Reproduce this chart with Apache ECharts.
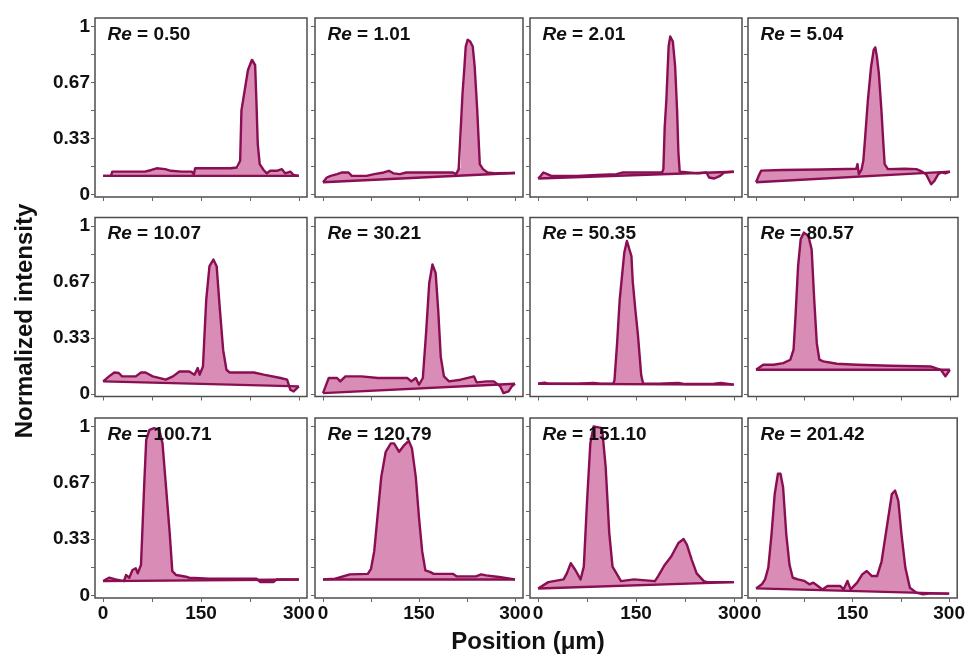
<!DOCTYPE html>
<html>
<head>
<meta charset="utf-8">
<script src="https://cdn.jsdelivr.net/npm/echarts@6/dist/echarts.min.js"></script>
<style>
  html, body { margin: 0; padding: 0; background: #ffffff; }
  #chart { width: 968px; height: 660px; }
</style>
</head>
<body>
<div id="chart"></div>
<script>
// Reynolds numbers shown in each panel (row by row)
const reValues = ['0.50', '1.01', '2.01', '5.04', '10.07', '30.21', '50.35', '80.57', '100.71', '120.79', '151.10', '201.42'];

// Intensity profiles: [position (µm), normalized intensity]
const profileRe050 = [[0,0.11],[12,0.11],[14,0.135],[40,0.135],[64,0.135],[74,0.145],[82,0.155],[95,0.15],[104,0.14],[120,0.135],[136,0.135],[139,0.12],[141,0.155],[170,0.155],[195,0.155],[205,0.16],[208,0.155],[210,0.2],[212,0.5],[217,0.62],[222,0.74],[228,0.80],[231,0.805],[233,0.77],[235,0.55],[237,0.3],[240,0.18],[246,0.145],[251,0.125],[256,0.14],[266,0.14],[274,0.15],[279,0.125],[287,0.135],[292,0.115],[300,0.11]];
const profileRe101 = [[0,0.072],[3,0.075],[6,0.10],[12,0.11],[22,0.12],[30,0.13],[40,0.13],[45,0.11],[68,0.11],[80,0.12],[95,0.13],[103,0.14],[110,0.125],[120,0.12],[130,0.13],[160,0.13],[185,0.13],[203,0.13],[208,0.12],[212,0.15],[215,0.16],[218,0.60],[221,0.76],[223,0.88],[226,0.92],[230,0.91],[234,0.88],[237,0.76],[241,0.50],[245,0.18],[250,0.15],[257,0.13],[270,0.125],[300,0.127]];
const profileRe201 = [[0,0.094],[4,0.11],[8,0.13],[14,0.12],[20,0.11],[60,0.11],[90,0.115],[120,0.12],[130,0.13],[160,0.13],[190,0.13],[192,0.15],[194,0.4],[196.5,0.56],[200,0.88],[202.5,0.94],[206.5,0.91],[210,0.76],[213,0.50],[215,0.25],[217,0.135],[230,0.13],[245,0.125],[258,0.13],[262,0.10],[270,0.094],[279,0.11],[285,0.13],[300,0.134]];
const profileRe504 = [[0,0.072],[4,0.11],[8,0.141],[40,0.145],[100,0.148],[140,0.151],[155,0.152],[157,0.18],[159,0.12],[163,0.145],[166,0.20],[169,0.35],[173,0.56],[178,0.76],[182,0.86],[184.5,0.875],[187,0.82],[190,0.72],[194,0.50],[197,0.30],[199,0.18],[204,0.15],[230,0.152],[248,0.15],[257,0.135],[263,0.12],[267,0.09],[271,0.06],[276,0.08],[282,0.12],[287,0.131],[293,0.125],[300,0.135]];
const profileRe1007 = [[0,0.074],[9,0.104],[17,0.127],[24,0.124],[29,0.104],[50,0.104],[58,0.127],[65,0.127],[76,0.104],[96,0.084],[107,0.104],[117,0.133],[132,0.133],[140,0.114],[145,0.153],[148,0.114],[153,0.163],[158,0.56],[163,0.76],[169,0.80],[174,0.76],[179,0.50],[184,0.26],[189,0.143],[194,0.127],[231,0.127],[246,0.114],[272,0.094],[282,0.084],[287,0.024],[292,0.014],[300,0.044]];
const profileRe3021 = [[0,0.004],[4,0.044],[9,0.094],[22,0.094],[27,0.074],[35,0.104],[60,0.104],[86,0.094],[132,0.094],[138,0.074],[145,0.094],[150,0.054],[156,0.094],[161,0.36],[166,0.66],[171,0.77],[176,0.72],[180,0.50],[184,0.22],[189,0.104],[197,0.074],[215,0.084],[236,0.104],[240,0.068],[256,0.074],[267,0.074],[277,0.044],[282,0.004],[290,0.014],[295,0.044],[300,0.06]];
const profileRe5035 = [[0,0.06],[3,0.066],[10,0.066],[15,0.06],[60,0.06],[85,0.065],[95,0.06],[115,0.06],[117,0.08],[121,0.30],[125,0.56],[132,0.84],[136,0.91],[139,0.90],[143,0.82],[145,0.67],[149,0.50],[153,0.35],[158,0.11],[161,0.06],[185,0.06],[215,0.065],[225,0.058],[270,0.06],[280,0.065],[300,0.055]];
const profileRe8057 = [[0,0.143],[11,0.173],[27,0.173],[42,0.183],[53,0.203],[58,0.263],[61,0.46],[65,0.76],[69,0.92],[74,0.96],[81,0.94],[86,0.86],[90,0.56],[94,0.30],[98,0.203],[104,0.193],[125,0.179],[156,0.173],[208,0.167],[270,0.163],[286,0.143],[293,0.104],[300,0.143]];
const profileRe10071 = [[0,0.084],[9,0.104],[19,0.094],[32,0.084],[35,0.12],[40,0.104],[45,0.15],[50,0.16],[53,0.13],[58,0.18],[60,0.37],[63,0.66],[66,0.92],[71,0.98],[78,0.99],[86,0.98],[91,0.90],[96,0.66],[102,0.37],[106,0.143],[112,0.12],[127,0.11],[132,0.104],[163,0.098],[235,0.098],[241,0.078],[261,0.078],[266,0.094],[300,0.094]];
const profileRe12079 = [[0,0.094],[19,0.098],[42,0.124],[70,0.127],[75,0.157],[80,0.26],[85,0.46],[91,0.70],[98,0.85],[106,0.90],[111,0.90],[119,0.85],[127,0.89],[134,0.915],[139,0.87],[145,0.70],[150,0.46],[155,0.26],[160,0.147],[168,0.137],[173,0.127],[203,0.127],[209,0.112],[239,0.112],[247,0.124],[255,0.118],[275,0.108],[300,0.094]];
const profileRe15110 = [[0,0.04],[15.5,0.078],[39,0.094],[44,0.13],[50,0.19],[57,0.15],[65,0.094],[70,0.17],[75,0.56],[80,0.90],[85,1.0],[98,0.99],[103.5,0.76],[109,0.37],[114,0.17],[127,0.084],[147,0.094],[179,0.084],[184,0.114],[194,0.18],[204,0.23],[215,0.31],[223,0.333],[228,0.30],[235.5,0.21],[243,0.13],[254,0.084],[259,0.078],[300,0.078]];
const profileRe20142 = [[0,0.041],[9,0.065],[14,0.094],[19,0.163],[24,0.36],[29,0.60],[34,0.72],[38,0.72],[42,0.64],[47,0.36],[52,0.18],[57,0.104],[65,0.094],[75,0.085],[83,0.065],[89,0.075],[96,0.055],[103,0.035],[111,0.055],[131,0.055],[136,0.035],[142,0.085],[147,0.035],[157,0.075],[165,0.124],[172,0.144],[180,0.114],[188,0.114],[195,0.20],[203,0.40],[211,0.60],[216,0.62],[221,0.56],[226,0.36],[232,0.163],[239,0.045],[249,0.016],[259,0.006],[269,0.01],[300,0.01]];

const profiles = [profileRe050, profileRe101, profileRe201, profileRe504,
                  profileRe1007, profileRe3021, profileRe5035, profileRe8057,
                  profileRe10071, profileRe12079, profileRe15110, profileRe20142];

// Axis ticks and labels
const xTickMarks = [0, 75, 150, 225, 300];
const xLabelValues = [0, 150, 300];
const xLabelTexts = ['0', '150', '300'];
const yTickMarks = [0, 1/6, 1/3, 1/2, 2/3, 5/6, 1];
const yLabelValues = [0, 1/3, 2/3, 1];
const yLabelTexts = ['0', '0.33', '0.67', '1'];

// Panel layout (pixels)
const colLeft = [95, 315, 530, 748];
const colWidth = [212, 208, 212, 210];
const rowTop = [18, 217.5, 418];
const rowHeight = [179, 179, 180];

const FONT = '"Liberation Sans", Arial, Helvetica, sans-serif';
const LINE = '#8a0f52';
const FILL = '#d98cb6';
const FRAME = '#4d4d4d';

function nearestLabel(values, texts, v) {
  let best = 0;
  for (let k = 1; k < values.length; k++) {
    if (Math.abs(values[k] - v) < Math.abs(values[best] - v)) best = k;
  }
  return texts[best];
}

const grids = [], xAxes = [], yAxes = [], series = [], titles = [];

profiles.forEach((prof, i) => {
  const r = Math.floor(i / 4), c = i % 4;
  grids.push({
    left: colLeft[c], top: rowTop[r], width: colWidth[c], height: rowHeight[r],
    show: true, borderColor: FRAME, borderWidth: 1.5, backgroundColor: 'transparent'
  });
  xAxes.push({
    gridIndex: i, type: 'value', min: -12.5, max: 312.5,
    axisLine: { show: false, onZero: false },
    splitLine: { show: false },
    axisTick: { show: true, customValues: xTickMarks, length: 4, inside: false,
                lineStyle: { color: '#666', width: 1 } },
    axisLabel: { show: r === 2, customValues: xLabelValues, margin: 6,
                 formatter: v => nearestLabel(xLabelValues, xLabelTexts, v),
                 color: '#111', fontSize: 19, fontWeight: 'bold', fontFamily: FONT }
  });
  yAxes.push({
    gridIndex: i, type: 'value', min: -0.016, max: 1.05,
    axisLine: { show: false, onZero: false },
    splitLine: { show: false },
    axisTick: { show: true, customValues: yTickMarks, length: 4, inside: false,
                lineStyle: { color: '#666', width: 1 } },
    axisLabel: { show: c === 0, customValues: yLabelValues, margin: 5,
                 formatter: v => nearestLabel(yLabelValues, yLabelTexts, v),
                 color: '#111', fontSize: 19, fontWeight: 'bold', fontFamily: FONT }
  });

  // shaded region between the profile and the straight chord joining its end points
  series.push({
    type: 'custom', xAxisIndex: i, yAxisIndex: i, z: 1, silent: true,
    data: prof, encode: { x: 0, y: 1 },
    renderItem: (params, api) => {
      if (params.dataIndex !== 0) return null;
      const pts = prof.map(p => api.coord(p));
      return { type: 'polygon', shape: { points: pts }, style: { fill: FILL, stroke: null } };
    }
  });
  // measured profile
  series.push({
    type: 'line', xAxisIndex: i, yAxisIndex: i, z: 3, data: prof,
    showSymbol: false, symbol: 'none', silent: true,
    lineStyle: { color: LINE, width: 2.4, join: 'round' }
  });
  // chord baseline
  series.push({
    type: 'line', xAxisIndex: i, yAxisIndex: i, z: 3,
    data: [prof[0], prof[prof.length - 1]],
    showSymbol: false, symbol: 'none', silent: true,
    lineStyle: { color: LINE, width: 2.4 }
  });

  titles.push({
    text: '{it|Re} = ' + reValues[i],
    left: colLeft[c] + 12.5, top: rowTop[r] + 7, padding: 0,
    textStyle: {
      fontSize: 19, fontWeight: 'bold', color: '#111', fontFamily: FONT,
      rich: { it: { fontSize: 19, fontWeight: 'bold', fontStyle: 'italic', color: '#111', fontFamily: FONT } }
    }
  });
});

const chart = echarts.init(document.getElementById('chart'), null, { renderer: 'canvas' });
chart.setOption({
  animation: false,
  backgroundColor: '#ffffff',
  title: titles,
  grid: grids,
  xAxis: xAxes,
  yAxis: yAxes,
  series: series,
  graphic: [
    { type: 'text', x: 25, y: 321, rotation: Math.PI / 2,
      style: { text: 'Normalized intensity', font: 'bold 24px ' + FONT, fill: '#111',
               align: 'center', verticalAlign: 'middle' } },
    { type: 'text', x: 528, y: 642,
      style: { text: 'Position (μm)', font: 'bold 24px ' + FONT, fill: '#111',
               align: 'center', verticalAlign: 'middle' } }
  ]
});
</script>
</body>
</html>
